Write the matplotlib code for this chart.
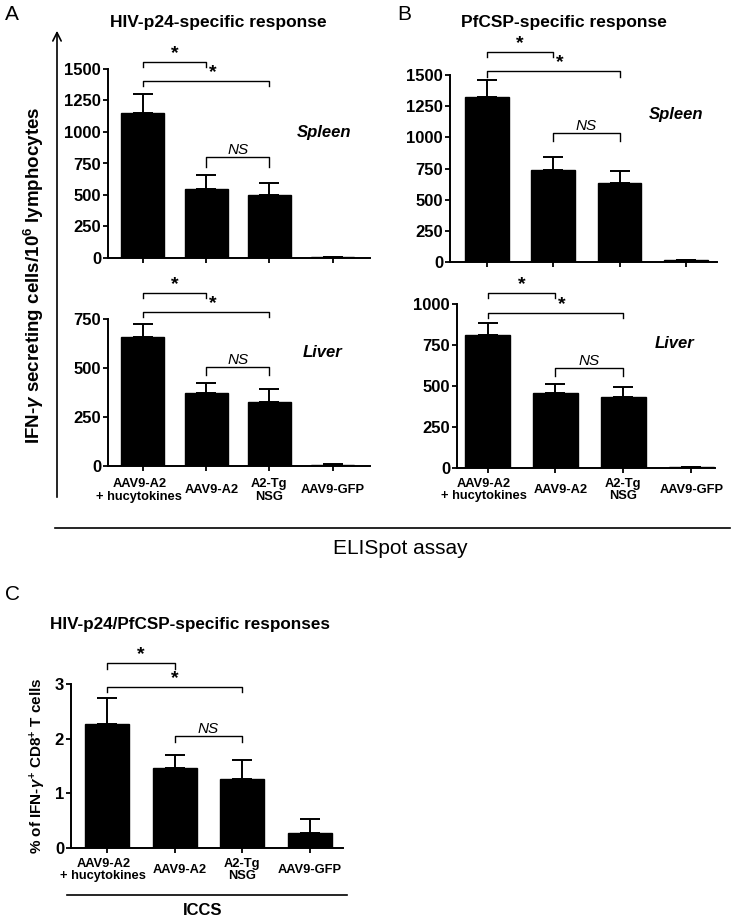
import matplotlib
matplotlib.use("Agg")
import matplotlib.pyplot as plt
from matplotlib.patches import FancyArrowPatch
from matplotlib.lines import Line2D

plt.rcParams['font.family'] = ['Liberation Sans', 'DejaVu Sans']
plt.rcParams['mathtext.fontset'] = 'custom'
plt.rcParams['mathtext.rm'] = 'Liberation Sans:bold'
plt.rcParams['mathtext.it'] = 'Liberation Sans:italic:bold'
plt.rcParams['mathtext.bf'] = 'Liberation Sans:bold'

groups = ["AAV9-A2\n+ hucytokines", "AAV9-A2", "A2-Tg\nNSG", "AAV9-GFP"]

hiv_spleen = [1150, 550, 500, 5]
hiv_spleen_err = [150, 105, 95, 3]
hiv_liver = [660, 370, 325, 5]
hiv_liver_err = [65, 55, 70, 3]

pfcsp_spleen = [1320, 735, 630, 15]
pfcsp_spleen_err = [140, 110, 100, 5]
pfcsp_liver = [810, 460, 430, 5]
pfcsp_liver_err = [75, 50, 65, 2]

iccs = [2.27, 1.46, 1.26, 0.27]
iccs_err = [0.47, 0.24, 0.35, 0.26]

W, H = 735, 922
fig = plt.figure(figsize=(W / 100, H / 100), dpi=100)


def fx(px):
    return px / W


def fy(py):
    return 1 - py / H


def make_ax(left, right, top, bottom):
    return fig.add_axes([fx(left), fy(bottom), (right - left) / W, (bottom - top) / H])


# small horizontal nudges of the group labels, in points
label_shift = [-2.5, 4, 0, 0]


def bar_panel(ax, vals, errs, ylim, yticks, xlim, width, labels, label_off):
    x = range(len(vals))
    ax.bar(x, vals, width=width, color='black', edgecolor='black', zorder=2)
    ax.errorbar(x, vals, yerr=[[0] * len(vals), errs], fmt='none', ecolor='black',
                elinewidth=1.4, capsize=7, capthick=1.4, zorder=1)
    ax.set_xlim(*xlim)
    ax.set_ylim(*ylim)
    ax.set_yticks(yticks)
    ax.set_yticklabels([str(t) for t in yticks], fontsize=12, fontweight='bold')
    ax.set_xticks(list(x))
    ax.set_xticklabels([])
    for s in ['top', 'right']:
        ax.spines[s].set_visible(False)
    for s in ['left', 'bottom']:
        ax.spines[s].set_linewidth(1.4)
    ax.tick_params(direction='out', length=3.5, width=1.3, pad=1.5)
    if labels:
        for i, lab in enumerate(groups):
            ax.annotate(lab, xy=(i, 0), xycoords=('data', 'axes fraction'),
                        xytext=(label_shift[i], -label_off), textcoords='offset points',
                        ha='center', va='center', fontsize=9.3, fontweight='bold',
                        linespacing=1.05)


def bracket(ax, i, j, h, drop, text, nudge=0.0):
    ax.plot([i, i, j, j], [h - drop, h, h, h - drop], color='black', lw=1.0, clip_on=False)
    if text == '*':
        ax.text((i + j) / 2 + nudge, h, '*', ha='center', va='bottom', fontsize=14,
                fontweight='bold')
    else:
        ax.text((i + j) / 2, h, text, ha='center', va='bottom', fontsize=11,
                style='italic')


# Panel A spleen
ax = make_ax(108, 370, 69, 258)
bar_panel(ax, hiv_spleen, hiv_spleen_err, (0, 1500), [0, 250, 500, 750, 1000, 1250, 1500],
          (-0.55, 3.59), 0.68, False, 0)
bracket(ax, 0, 1, 1556, 40, '*')
bracket(ax, 0, 2, 1405, 40, '*', 0.1)
bracket(ax, 1, 2, 802, 80, 'NS')
ax.text(3.3, 1000, 'Spleen', ha='right', va='center', fontsize=12, fontweight='bold',
        style='italic')

# Panel A liver
ax = make_ax(108, 370, 319, 466)
bar_panel(ax, hiv_liver, hiv_liver_err, (0, 750), [0, 250, 500, 750],
          (-0.55, 3.59), 0.68, True, 17.5)
bracket(ax, 0, 1, 883, 25, '*')
bracket(ax, 0, 2, 786, 25, '*', 0.1)
bracket(ax, 1, 2, 505, 40, 'NS')
ax.text(3.15, 580, 'Liver', ha='right', va='center', fontsize=12, fontweight='bold',
        style='italic')

# Panel B spleen
ax = make_ax(450, 717, 75, 262)
bar_panel(ax, pfcsp_spleen, pfcsp_spleen_err, (0, 1500), [0, 250, 500, 750, 1000, 1250, 1500],
          (-0.56, 3.47), 0.66, False, 0)
bracket(ax, 0, 1, 1685, 40, '*')
bracket(ax, 0, 2, 1532, 48, '*', 0.1)
bracket(ax, 1, 2, 1034, 64, 'NS')
ax.text(3.27, 1180, 'Spleen', ha='right', va='center', fontsize=12, fontweight='bold',
        style='italic')

# Panel B liver
ax = make_ax(457, 715, 304, 468)
bar_panel(ax, pfcsp_liver, pfcsp_liver_err, (0, 1000), [0, 250, 500, 750, 1000],
          (-0.45, 3.35), 0.66, True, 16)
bracket(ax, 0, 1, 1067, 30, '*')
bracket(ax, 0, 2, 945, 30, '*', 0.1)
bracket(ax, 1, 2, 610, 49, 'NS')
ax.text(3.05, 760, 'Liver', ha='right', va='center', fontsize=12, fontweight='bold',
        style='italic')

# Panel C
ax = make_ax(71, 343, 684, 848)
bar_panel(ax, iccs, iccs_err, (0, 3), [0, 1, 2, 3],
          (-0.53, 3.49), 0.65, True, 16)
bracket(ax, 0, 1, 3.38, 0.11, '*')
bracket(ax, 0, 2, 2.95, 0.09, '*', 0.0)
bracket(ax, 1, 2, 2.05, 0.11, 'NS')
ax.set_ylabel('% of IFN-$\\gamma^{+}$ CD8$^{+}$ T cells', fontsize=11, fontweight='bold',
              labelpad=5)

# figure-level text and lines
fig.text(fx(12), fy(14), 'A', fontsize=15, ha='center', va='center')
fig.text(fx(404), fy(14), 'B', fontsize=15, ha='center', va='center')
fig.text(fx(12), fy(594), 'C', fontsize=15, ha='center', va='center')

fig.text(fx(218), fy(23), 'HIV-p24-specific response', fontsize=12.5, fontweight='bold',
         ha='center', va='center')
fig.text(fx(564), fy(23), 'PfCSP-specific response', fontsize=12.5, fontweight='bold',
         ha='center', va='center')
fig.text(fx(50), fy(624), 'HIV-p24/PfCSP-specific responses', fontsize=12.3, fontweight='bold',
         ha='left', va='center')

fig.text(fx(34), fy(275), 'IFN-$\\gamma$ secreting cells/10$^{6}$ lymphocytes', fontsize=13.5,
         fontweight='bold', rotation=90, ha='center', va='center')
fig.add_artist(FancyArrowPatch((fx(57), fy(500)), (fx(57), fy(28)), transform=fig.transFigure,
                               arrowstyle='->,head_length=6,head_width=3', lw=1.2,
                               color='black', mutation_scale=1))

fig.add_artist(Line2D([fx(55), fx(730)], [fy(528), fy(528)], transform=fig.transFigure,
                      color='black', lw=1.2))
fig.text(fx(400), fy(548), 'ELISpot assay', fontsize=15, ha='center', va='center')

fig.add_artist(Line2D([fx(67), fx(347)], [fy(895), fy(895)], transform=fig.transFigure,
                      color='black', lw=1.2))
fig.text(fx(203), fy(910), 'ICCS', fontsize=12, fontweight='bold', ha='center', va='center')

fig.savefig('out.png', dpi=100)
